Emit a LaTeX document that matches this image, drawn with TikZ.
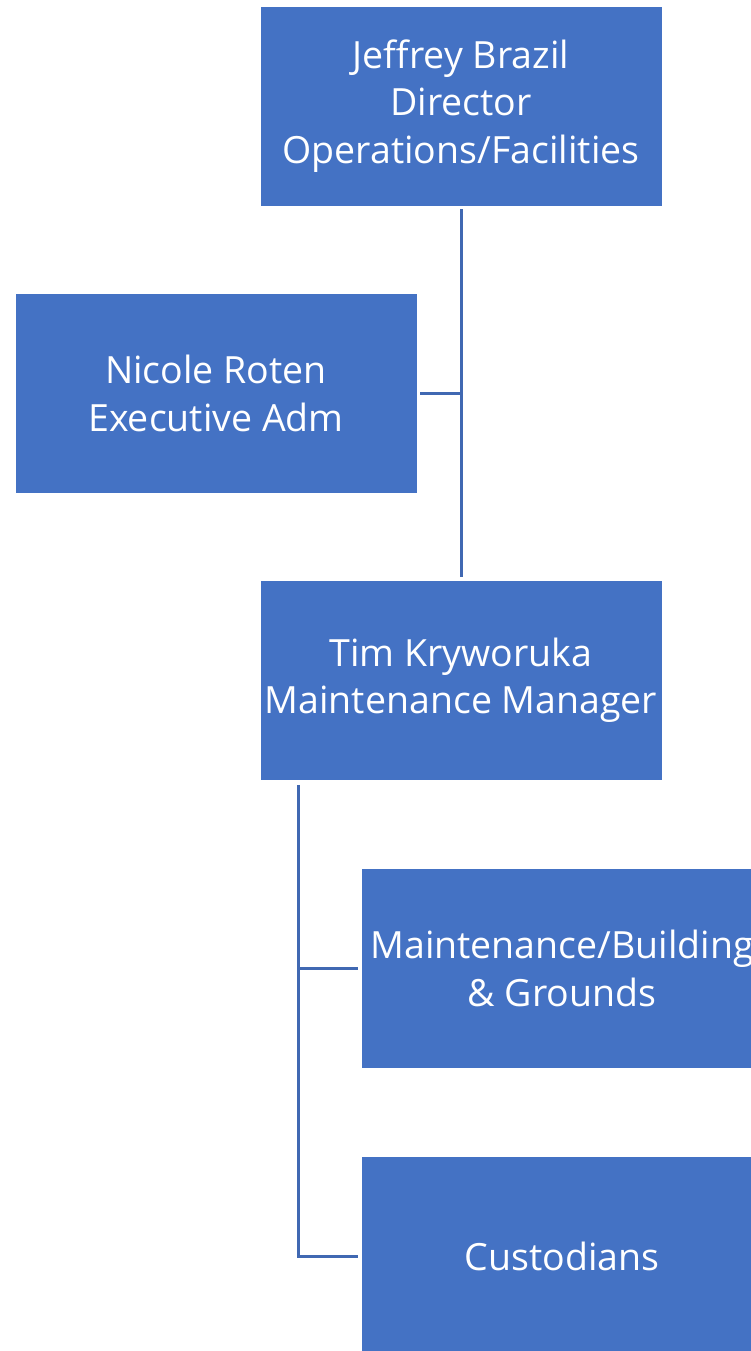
\documentclass[tikz,border=0pt]{standalone}
\usepackage{fontspec}
\setmainfont{Open Sans}
\usetikzlibrary{positioning}
\definecolor{boxblue}{HTML}{4472C4}
\definecolor{lineblue}{HTML}{4068B2}
\tikzset{
  orgbox/.style={fill=boxblue,draw=white,line width=0.8pt,minimum width=402pt,minimum height=200pt,
    align=center,text=white,inner sep=0pt,font=\fontsize{37.5}{47.5}\selectfont},
  orgline/.style={draw=lineblue,line width=3pt}
}
\begin{document}
\begin{tikzpicture}[x=1pt,y=1pt]
    \useasboundingbox (0,0) rectangle (751,-1351);
    \clip (0,0) rectangle (751,-1351);
    \node[orgbox] (director) at (461,-106) {Jeffrey Brazil\\Director\\Operations/Facilities};
    \node[orgbox] (admin) at (216,-393.5) {Nicole Roten\\Executive Adm};
    \node[orgbox] (manager) at (461,-680.5) {Tim Kryworuka\\Maintenance Manager};
    \node[orgbox] (grounds) at (562,-968.5) {Maintenance/Building\\\& Grounds};
    \node[orgbox] (custodians) at (562,-1256.5) {Custodians};
    \coordinate (trunk) at ([xshift=39pt]manager.south west);
    \draw[orgline,shorten <=3pt,shorten >=3pt] (director.south) -- (manager.north);
    \draw[orgline,shorten <=3pt] (admin.east) -- (admin.east -| director.south);
    \draw[orgline,shorten <=3pt,shorten >=3pt] ([yshift=-1pt]trunk) -- (trunk |- custodians.west) -- (custodians.west);
    \draw[orgline,shorten >=3pt] (trunk |- grounds.west) -- (grounds.west);
\end{tikzpicture}
\end{document}
